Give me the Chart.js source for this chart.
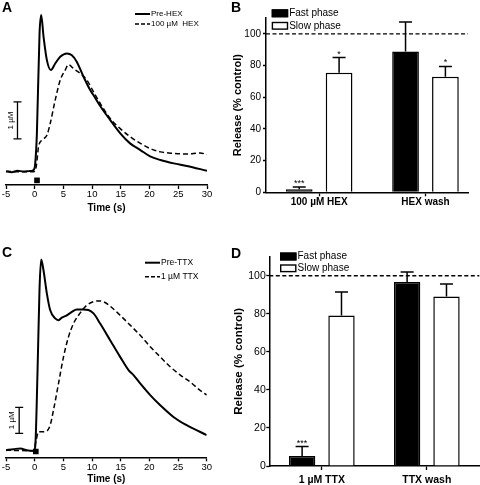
<!DOCTYPE html>
<html>
<head>
<meta charset="utf-8">
<script src="https://cdn.jsdelivr.net/npm/chart.js@4"></script>
<style>
  html, body { margin: 0; padding: 0; background: #fff; }
  #wrap { position: relative; width: 480px; height: 485px; overflow: hidden; }
  canvas { position: absolute; }
</style>
</head>
<body>
<div id="wrap">
  <canvas id="cA" width="240" height="240" style="left:0;top:0"></canvas>
  <canvas id="cB" width="252" height="240" style="left:228px;top:0"></canvas>
  <canvas id="cC" width="240" height="245" style="left:0;top:240px"></canvas>
  <canvas id="cD" width="252" height="240" style="left:228px;top:245px"></canvas>
</div>
<script>
const FONT = "'Liberation Sans', Arial, sans-serif";

// A - traces before / during 100 µM HEX (µM vs s)
const preHexT = [-5, -4, -3, -2, -1, -0.2, 0.09, 0.38, 0.84, 1.13, 1.54, 2.12, 2.81, 3.57, 4.44, 5.6, 6.47, 7.34, 8.5, 9.66, 10.25, 11.4, 13.15, 14.9, 16.6, 18.4, 20.1, 21.9, 24.2, 26.5, 30];
const preHexV = [0.01, -0.02, 0.02, 0.0, 0.01, 0.04, 0.22, 1.03, 3.73, 4.23, 3.64, 3.01, 2.74, 2.92, 3.10, 3.19, 3.14, 2.96, 2.56, 2.20, 2.06, 1.77, 1.39, 1.03, 0.76, 0.58, 0.41, 0.31, 0.22, 0.15, 0.02];
const hexT = [-5, -0.2, 0.26, 0.67, 1.25, 2.12, 2.7, 3.57, 4.44, 5.31, 5.89, 6.76, 7.92, 9.08, 10.25, 11.4, 13.15, 14.9, 16.6, 18.4, 20.1, 21.9, 24.2, 26.5, 28.8, 30];
const hexV = [0.0, -0.01, 0.13, 0.67, 0.85, 0.98, 1.30, 1.93, 2.47, 2.74, 2.89, 2.78, 2.65, 2.47, 2.15, 1.84, 1.43, 1.16, 0.94, 0.76, 0.62, 0.53, 0.49, 0.47, 0.50, 0.46];
const stimAT = [0.4];
const stimAV = [-0.24];

// B - release (% control), HEX
const hexGroups = ['100 µM HEX', 'HEX wash'];
const hexFast = [2, 88.8];
const hexFastErr = [1.3, 18.6];
const hexFastSig = ['***', ''];
const hexSlow = [75.5, 73];
const hexSlowErr = [9.5, 6.4];
const hexSlowSig = ['*', '*'];

// C - traces before / during 1 µM TTX
const preTtxT = [-5, -3.7, -2.5, -1.37, -0.2, 0.09, 0.49, 0.84, 1.13, 1.54, 2.12, 2.7, 3.57, 4.16, 4.74, 5.61, 6.48, 7.35, 8.5, 9.38, 10.26, 11.42, 13.16, 14.9, 16.37, 17.24, 18.4, 20.15, 21.9, 24.2, 26.5, 28.8, 30];
const preTtxV = [0.05, 0.09, 0.12, 0.05, 0.03, 0.18, 3.0, 6.21, 7.38, 6.97, 6.08, 5.44, 5.12, 5.05, 5.15, 5.24, 5.37, 5.46, 5.46, 5.44, 5.31, 4.92, 4.28, 3.64, 3.13, 2.94, 2.62, 2.17, 1.78, 1.33, 1.01, 0.76, 0.63];
const ttxT = [-5, -0.2, 0.26, 0.67, 1.25, 2.12, 2.7, 3.28, 4.16, 5.03, 5.9, 6.77, 7.94, 9.1, 10.26, 11.13, 12.0, 13.16, 14.9, 16.65, 18.4, 20.15, 21.9, 23.63, 25.4, 27.1, 28.8, 30];
const ttxV = [0.05, 0.03, 0.44, 0.76, 0.76, 0.79, 1.01, 1.59, 2.62, 3.64, 4.41, 4.92, 5.33, 5.63, 5.76, 5.79, 5.76, 5.59, 5.24, 4.86, 4.47, 4.03, 3.64, 3.26, 2.94, 2.68, 2.36, 2.17];
const stimCT = [0.2];
const stimCV = [0.0];

// D - release (% control), TTX
const ttxGroups = ['1 µM TTX', 'TTX wash'];
const ttxFast = [5.3, 96.7];
const ttxFastErr = [4.9, 5.2];
const ttxFastSig = ['***', ''];
const ttxSlow = [79.1, 89.1];
const ttxSlowErr = [12.3, 6.5];
const ttxSlowSig = ['', ''];

const yTicks = [0, 20, 40, 60, 80, 100];

const pts = (t, v) => t.map((x, i) => ({ x, y: v[i] }));

// scale bar, legend and letter of a trace panel
function traceDecor(o) {
  return {
    id: 'decor',
    afterDraw(chart) {
      const { ctx, scales: { x, y } } = chart;
      ctx.save();
      ctx.strokeStyle = '#000';
      ctx.fillStyle = '#000';
      ctx.lineWidth = 1.3;
      const bx = x.getPixelForValue(o.barT);
      const y0 = y.getPixelForValue(o.barV[0]);
      const y1 = y.getPixelForValue(o.barV[1]);
      ctx.beginPath();
      ctx.moveTo(bx, y0); ctx.lineTo(bx, y1);
      ctx.moveTo(bx - 4, y0); ctx.lineTo(bx + 4, y0);
      ctx.moveTo(bx - 4, y1); ctx.lineTo(bx + 4, y1);
      ctx.stroke();
      ctx.save();
      ctx.translate(bx - 7, (y0 + y1) / 2);
      ctx.rotate(-Math.PI / 2);
      ctx.font = `8px ${FONT}`;
      ctx.textAlign = 'center';
      ctx.textBaseline = 'middle';
      ctx.fillText('1 µM', 0, 0);
      ctx.restore();

      // legend
      ctx.font = `${o.legFont}px ${FONT}`;
      ctx.textAlign = 'left';
      ctx.textBaseline = 'middle';
      o.legend.forEach((name, i) => {
        const ly = o.legY[i];
        ctx.beginPath();
        ctx.lineWidth = i === 0 ? 2 : 1.5;
        ctx.setLineDash(i === 0 ? [] : [4, 2]);
        ctx.moveTo(o.legX, ly);
        ctx.lineTo(o.legX + 15, ly);
        ctx.stroke();
        ctx.setLineDash([]);
        ctx.fillText(name, o.legX + 16, ly);
      });

      ctx.font = `bold 14px ${FONT}`;
      ctx.textBaseline = 'top';
      ctx.fillText(o.letter, 2, o.letterY);
      ctx.restore();
    }
  };
}

function traceChart(id, o) {
  return new Chart(document.getElementById(id), {
    type: 'line',
    data: {
      datasets: [
        { data: pts(o.solidT, o.solidV), borderColor: '#000', borderWidth: 2, pointRadius: 0, cubicInterpolationMode: 'monotone' },
        { data: pts(o.dashT, o.dashV), borderColor: '#000', borderWidth: 1.5, borderDash: [5, 3], pointRadius: 0, cubicInterpolationMode: 'monotone' },
        { data: pts(o.stimT, o.stimV), showLine: false, pointStyle: 'rect', pointRadius: 4, backgroundColor: '#000', borderWidth: 0 }
      ]
    },
    options: {
      responsive: false,
      animation: false,
      layout: { padding: o.pad },
      plugins: { legend: { display: false }, tooltip: { enabled: false } },
      scales: {
        x: {
          type: 'linear', min: -5, max: 30,
          ticks: { stepSize: 5, color: '#000', padding: 1, maxRotation: 0, autoSkip: false, font: { family: FONT, size: 9.5, lineHeight: 1 } },
          grid: { drawOnChartArea: false, color: '#000', tickLength: 4, tickWidth: 1.3 },
          border: { color: '#000', width: 1.5 },
          title: { display: true, text: 'Time (s)', color: '#000', padding: 0, font: { family: FONT, size: 10, weight: 'bold', lineHeight: 1 } },
          afterFit: s => { s.height = o.xh; }
        },
        y: { display: false, min: o.ymin, max: o.ymax }
      }
    },
    plugins: [traceDecor(o)]
  });
}

// dashed 100 % line, error bars, stars, legend and letter of a bar panel
function barDecor(o) {
  return {
    id: 'bardecor',
    beforeDatasetsDraw(chart) {
      const { ctx, chartArea, scales: { y } } = chart;
      const py = y.getPixelForValue(100);
      ctx.save();
      ctx.strokeStyle = '#000';
      ctx.lineWidth = 1.4;
      ctx.setLineDash([4, 2.5]);
      ctx.beginPath();
      ctx.moveTo(chartArea.left, py);
      ctx.lineTo(chartArea.right, py);
      ctx.stroke();
      ctx.restore();
    },
    afterDatasetsDraw(chart) {
      const { ctx, scales: { y } } = chart;
      ctx.save();
      ctx.strokeStyle = '#000';
      ctx.fillStyle = '#000';
      ctx.lineWidth = 1.5;
      chart.data.datasets.forEach((ds, di) => {
        chart.getDatasetMeta(di).data.forEach((bar, i) => {
          const v = ds.data[i].y;
          const top = y.getPixelForValue(v + ds.err[i]);
          ctx.beginPath();
          ctx.moveTo(bar.x, bar.y);
          ctx.lineTo(bar.x, top);
          ctx.moveTo(bar.x - 6.5, top);
          ctx.lineTo(bar.x + 6.5, top);
          ctx.stroke();
          if (ds.sig[i]) {
            ctx.font = `9px ${FONT}`;
            ctx.textAlign = 'center';
            ctx.textBaseline = 'bottom';
            ctx.fillText(ds.sig[i], bar.x, top + 1);
          }
        });
      });
      ctx.restore();
    },
    afterDraw(chart) {
      const { ctx } = chart;
      ctx.save();
      ctx.font = `10px ${FONT}`;
      ctx.textAlign = 'left';
      ctx.textBaseline = 'middle';
      chart.data.datasets.forEach((ds, i) => {
        const ly = o.legY[i];
        ctx.fillStyle = ds.backgroundColor;
        ctx.fillRect(o.legX, ly - 4, 16.5, 8);
        ctx.strokeStyle = '#000';
        ctx.lineWidth = 1.4;
        ctx.strokeRect(o.legX + 0.7, ly - 3.3, 15.1, 6.6);
        ctx.fillStyle = '#000';
        ctx.fillText(ds.label, o.legX + 17.5, ly);
      });
      ctx.font = `bold 14px ${FONT}`;
      ctx.textBaseline = 'top';
      ctx.fillText(o.letter, 3, o.letterY);
      ctx.restore();
    }
  };
}

function barChart(id, o) {
  const mk = vals => vals.map((v, i) => ({ x: i + 1, y: v }));
  const common = { borderColor: '#000', borderWidth: 1.5, categoryPercentage: 0.75, barPercentage: 0.67 };
  return new Chart(document.getElementById(id), {
    type: 'bar',
    data: {
      datasets: [
        Object.assign({ label: 'Fast phase', data: mk(o.fast), backgroundColor: '#000', err: o.fastErr, sig: o.fastSig }, common),
        Object.assign({ label: 'Slow phase', data: mk(o.slow), backgroundColor: '#fff', err: o.slowErr, sig: o.slowSig }, common)
      ]
    },
    options: {
      responsive: false,
      animation: false,
      layout: { padding: o.pad },
      plugins: { legend: { display: false }, tooltip: { enabled: false } },
      scales: {
        x: {
          type: 'linear', min: 0.5, max: o.xmax, offset: false,
          afterBuildTicks: s => { s.ticks = o.groups.map((_, i) => ({ value: i + 1 })); },
          ticks: { callback: v => o.groups[v - 1], color: '#000', padding: o.xpad, maxRotation: 0, autoSkip: false, font: { family: FONT, size: o.catFont, weight: 'bold', lineHeight: 1 } },
          grid: { offset: false, drawOnChartArea: false, color: '#000', tickLength: 4, tickWidth: 1.3 },
          border: { color: '#000', width: 1.5 },
          afterFit: s => { s.height = o.xh; }
        },
        y: {
          min: 0, max: 110,
          afterBuildTicks: s => { s.ticks = yTicks.map(v => ({ value: v })); },
          ticks: { color: '#000', padding: o.ypad, font: { family: FONT, size: o.tickFont, lineHeight: 1 } },
          grid: { drawOnChartArea: false, color: '#000', tickLength: 3, tickWidth: 1.3 },
          border: { color: '#000', width: 1.5 },
          title: { display: true, text: 'Release (% control)', color: '#000', padding: { top: o.titlePad }, font: { family: FONT, size: o.titleFont, weight: 'bold', lineHeight: 1 } },
          afterFit: s => { s.width = o.yw; }
        }
      }
    },
    plugins: [barDecor(o)]
  });
}

traceChart('cA', {
  solidT: preHexT, solidV: preHexV, dashT: hexT, dashV: hexV, stimT: stimAT, stimV: stimAV,
  pad: { left: 6, right: 33, top: 10, bottom: 27 }, xh: 28, ymin: -0.365, ymax: 4.365,
  barT: -3.0, barV: [0.88, 1.88],
  legend: ['Pre-HEX', '100 µM  HEX'], legX: 135, legY: [14, 24], legFont: 8,
  letter: 'A', letterY: 1
});

barChart('cB', {
  groups: hexGroups, fast: hexFast, fastErr: hexFastErr, fastSig: hexFastSig,
  slow: hexSlow, slowErr: hexSlowErr, slowSig: hexSlowSig,
  pad: { left: 0, right: 12, top: 18, bottom: 27.7 }, xh: 20, yw: 38, xmax: 2.4,
  xpad: 1, ypad: 2, catFont: 10, tickFont: 10, titleFont: 11, titlePad: 4,
  legX: 43.7, legY: [13.3, 25.8], letter: 'B', letterY: 1
});

traceChart('cC', {
  solidT: preTtxT, solidV: preTtxV, dashT: ttxT, dashV: ttxV, stimT: stimCT, stimV: stimCV,
  pad: { left: 6, right: 33.3, top: 10, bottom: 0.7 }, xh: 27, ymin: -0.223, ymax: 7.75,
  barT: -2.7, barV: [0.70, 1.70],
  legend: ['Pre-TTX', '1 µM TTX'], legX: 145, legY: [22.7, 36.7], legFont: 8.5,
  letter: 'C', letterY: 6
});

barChart('cD', {
  groups: ttxGroups, fast: ttxFast, fastErr: ttxFastErr, fastSig: ttxFastSig,
  slow: ttxSlow, slowErr: ttxSlowErr, slowSig: ttxSlowSig,
  pad: { left: 0, right: 0.7, top: 11.7, bottom: 0 }, xh: 19, yw: 41.3, xmax: 2.5,
  xpad: 4.5, ypad: 0.5, catFont: 10.5, tickFont: 10.5, titleFont: 11.5, titlePad: 5.5,
  legX: 52, legY: [11.5, 23.3], letter: 'D', letterY: 2
});
</script>
</body>
</html>
